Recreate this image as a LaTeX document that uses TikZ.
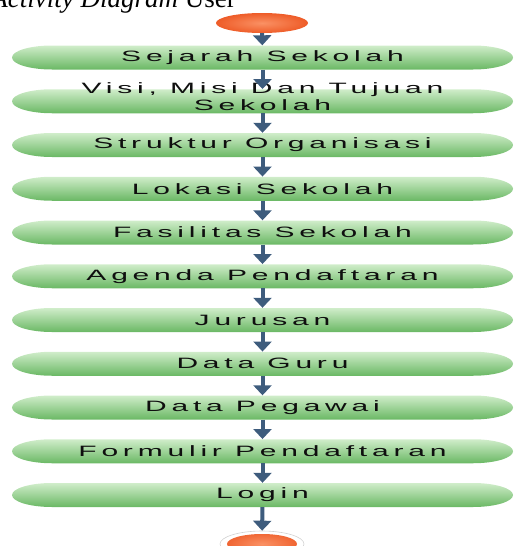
\documentclass[tikz,border=0pt]{standalone}
\usepackage{fontspec}
\usepackage{graphicx}
\usetikzlibrary{arrows.meta,shapes.geometric,calc}
\newfontfamily\pillfont{Liberation Sans}[LetterSpace=16]
\newfontfamily\titlefont{Liberation Serif}
% horizontally extended label text
\newcommand\widetext[1]{\scalebox{2.0}[1.0]{#1}}

\definecolor{pillTop}{RGB}{208,237,202}
\definecolor{pillMid}{RGB}{168,217,160}
\definecolor{pillBot}{RGB}{106,184,100}
\definecolor{arrowC}{RGB}{62,92,125}
\definecolor{orangeIn}{RGB}{250,145,100}
\definecolor{orangeOut}{RGB}{238,92,40}
\definecolor{labelC}{RGB}{15,15,15}

\tikzset{
  pill/.style={rectangle, minimum width=501pt, minimum height=24pt, inner sep=0pt,
    align=center, text=labelC, font=\pillfont\fontsize{15}{16}\selectfont,
    path picture={
      \shade[top color=pillTop, middle color=pillMid, bottom color=pillBot]
        ($(path picture bounding box.north west)+(40,0)$)
        arc[start angle=90, end angle=270, x radius=40, y radius=12]
        -- ($(path picture bounding box.south east)+(-40,0)$)
        arc[start angle=-90, end angle=90, x radius=40, y radius=12] -- cycle;
    }},
  startnode/.style={ellipse, minimum width=92pt, minimum height=20pt, inner sep=0pt,
    shade, inner color=orangeIn, outer color=orangeOut},
  endnode/.style={ellipse, minimum width=84pt, minimum height=26pt, inner sep=0pt,
    draw=black!18, line width=0.6pt,
    path picture={
      \shade[inner color=orangeIn, outer color=orangeOut]
        (path picture bounding box.center) ellipse[x radius=35, y radius=10];
    }},
  flow/.style={draw=arrowC, line width=4pt, -{Triangle[width=18pt,length=10pt]}}
}

\begin{document}
\begin{tikzpicture}[x=1pt,y=1pt]
\useasboundingbox (0,0) rectangle (514,-546);

% heading, partly above the page edge
\node[anchor=base east, font=\titlefont\fontsize{27}{31}\selectfont, inner sep=0pt]
  (title) at (236,-8) {\itshape Activity Diagram\upshape{} User};

\node[startnode] (start) at (262,-23) {};

\foreach \name/\label [count=\i from 0] in {
    p1/\widetext{Sejarah Sekolah},
    p2/{\raisebox{-1.5pt}[0pt][0pt]{%
        \begin{tabular}{@{}c@{}}\widetext{Visi, Misi Dan Tujuan}\\[1pt]
        \widetext{Sekolah}\end{tabular}}},
    p3/\widetext{Struktur Organisasi},
    p4/\widetext{Lokasi Sekolah},
    p5/\widetext{Fasilitas Sekolah},
    p6/\widetext{Agenda Pendaftaran},
    p7/\widetext{Jurusan},
    p8/\widetext{Data Guru},
    p9/\widetext{Data Pegawai},
    p10/\widetext{Formulir Pendaftaran},
    p11/\widetext{Login}}
  \node[pill] (\name) at (262.5,{-57.5-43.75*\i}) {\label};

\node[endnode] (end) at (262,-544) {};

\draw[flow] (start) -- (p1);
\foreach \a/\b in {p1/p2,p2/p3,p3/p4,p4/p5,p5/p6,p6/p7,p7/p8,p8/p9,p9/p10,p10/p11}
  \draw[flow] (\a) -- (\b);
\draw[flow] (p11) -- (end);
\end{tikzpicture}
\end{document}
